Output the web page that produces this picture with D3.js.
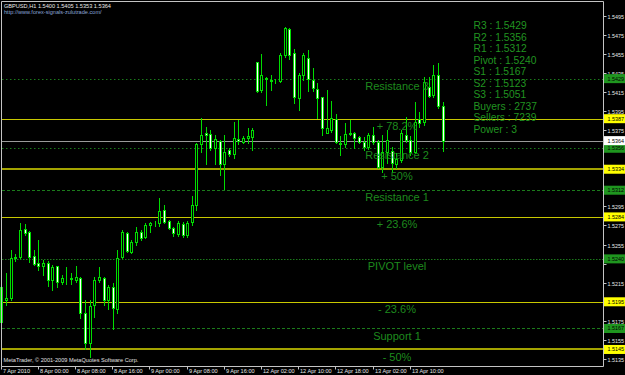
<!DOCTYPE html>
<html>
<head>
<meta charset="utf-8">
<script src="https://cdn.jsdelivr.net/npm/d3@7"></script>
<style>
  body {
    margin: 0;
    background: #000;
  }
  svg { display: block; }
</style>
</head>
<body>
<div id="chartContainer"></div>
<script type="text/javascript">
// GBPUSD H1 bars, 7 Apr 16:00 .. 13 Apr 17:00
var opens = [1.5174,1.5197,1.5199,1.5241,1.5242,1.5271,1.5268,1.5243,1.5236,1.5232,
  1.5236,1.5218,1.5232,1.5216,1.5219,1.5219,1.5218,1.5220,1.5183,1.5152,
  1.5192,1.5218,1.5220,1.5197,1.5210,1.5187,1.5242,1.5267,1.5247,1.5258,
  1.5268,1.5263,1.5276,1.5278,1.5278,1.5291,1.5280,1.5272,1.5266,1.5277,
  1.5265,1.5279,1.5296,1.5360,1.5372,1.5371,1.5356,1.5364,1.5340,1.5354,
  1.5350,1.5366,1.5363,1.5367,1.5368,1.5446,1.5417,1.5430,1.5428,1.5427,
  1.5426,1.5454,1.5481,1.5456,1.5409,1.5433,1.5451,1.5428,1.5418,1.5410,
  1.5372,1.5375,1.5387,1.5360,1.5360,1.5372,1.5372,1.5368,1.5363,1.5357,
  1.5370,1.5363,1.5336,1.5352,1.5353,1.5339,1.5344,1.5370,1.5365,1.5352,
  1.5387,1.5384,1.5420,1.5412,1.5433,1.5400];
var highs = [1.5215,1.5225,1.5249,1.5245,1.5278,1.5277,1.5269,1.5249,1.5260,1.5239,
  1.5238,1.5234,1.5233,1.5223,1.5231,1.5225,1.5233,1.5221,1.5197,1.5197,
  1.5221,1.5231,1.5221,1.5213,1.5215,1.5249,1.5270,1.5268,1.5260,1.5273,
  1.5270,1.5278,1.5279,1.5280,1.5304,1.5297,1.5281,1.5273,1.5280,1.5279,
  1.5280,1.5306,1.5362,1.5388,1.5378,1.5375,1.5370,1.5365,1.5370,1.5356,
  1.5384,1.5386,1.5369,1.5377,1.5377,1.5446,1.5455,1.5431,1.5433,1.5429,
  1.5456,1.5483,1.5482,1.5460,1.5435,1.5456,1.5459,1.5440,1.5424,1.5410,
  1.5417,1.5406,1.5392,1.5369,1.5382,1.5386,1.5373,1.5369,1.5368,1.5372,
  1.5378,1.5365,1.5370,1.5375,1.5357,1.5351,1.5375,1.5389,1.5369,1.5405,
  1.5394,1.5431,1.5431,1.5443,1.5445,1.5405];
var lows = [1.5171,1.5192,1.5197,1.5238,1.5241,1.5265,1.5237,1.5234,1.5228,1.5223,
  1.5212,1.5207,1.5210,1.5214,1.5214,1.5214,1.5216,1.5178,1.5145,1.5137,
  1.5179,1.5216,1.5192,1.5187,1.5166,1.5183,1.5241,1.5247,1.5246,1.5255,
  1.5260,1.5262,1.5268,1.5274,1.5274,1.5278,1.5271,1.5264,1.5264,1.5263,
  1.5263,1.5276,1.5291,1.5352,1.5339,1.5354,1.5339,1.5328,1.5313,1.5348,
  1.5346,1.5360,1.5361,1.5362,1.5354,1.5415,1.5415,1.5401,1.5417,1.5424,
  1.5425,1.5452,1.5450,1.5403,1.5396,1.5428,1.5416,1.5416,1.5388,1.5370,
  1.5372,1.5373,1.5362,1.5349,1.5357,1.5370,1.5356,1.5361,1.5354,1.5355,
  1.5360,1.5335,1.5331,1.5341,1.5331,1.5335,1.5342,1.5363,1.5349,1.5351,
  1.5378,1.5380,1.5410,1.5410,1.5398,1.5353];
var closes = [1.5211,1.5199,1.5241,1.5242,1.5270,1.5267,1.5242,1.5235,1.5232,1.5236,
  1.5218,1.5231,1.5216,1.5220,1.5219,1.5220,1.5221,1.5183,1.5152,1.5191,
  1.5218,1.5221,1.5197,1.5211,1.5188,1.5241,1.5268,1.5248,1.5258,1.5268,
  1.5262,1.5275,1.5278,1.5278,1.5290,1.5279,1.5272,1.5267,1.5278,1.5265,
  1.5278,1.5297,1.5360,1.5370,1.5370,1.5356,1.5366,1.5340,1.5352,1.5350,
  1.5367,1.5364,1.5367,1.5369,1.5375,1.5416,1.5433,1.5429,1.5426,1.5426,
  1.5454,1.5482,1.5454,1.5410,1.5433,1.5454,1.5429,1.5419,1.5409,1.5377,
  1.5377,1.5388,1.5363,1.5362,1.5371,1.5371,1.5367,1.5363,1.5357,1.5370,
  1.5363,1.5336,1.5352,1.5365,1.5341,1.5345,1.5372,1.5365,1.5352,1.5384,
  1.5383,1.5425,1.5411,1.5433,1.5400,1.5364];

// time axis labels (bar index of each)
var timeLabels = ["7 Apr 2010","8 Apr 00:00","8 Apr 08:00","8 Apr 16:00","9 Apr 00:00","9 Apr 08:00",
  "9 Apr 16:00","12 Apr 02:00","12 Apr 10:00","12 Apr 18:00","13 Apr 02:00","13 Apr 10:00"];
var timeLabelBars = [0,8,16,24,32,40,48,56,64,72,80,88];

// price axis ticks
var priceTicks = [1.5495,1.5475,1.5455,1.5435,1.5415,1.5395,1.5375,1.5355,1.5335,1.5315,
  1.5295,1.5275,1.5255,1.5235,1.5215,1.5195,1.5175,1.5155,1.5135];

// pivot levels
var levelNames = ["Resistance 3","Resistance 2","Resistance 1","PIVOT level","Support 1"];
var levelValues = [1.5429,1.5356,1.5312,1.5240,1.5167];
var levelDash = ["1.5,2.5","1.5,2.5","3,2","1.5,1.5","3,2"];

// fibo levels
var fiboNames = ["+ 78.2%","+ 50%","+ 23.6%","- 23.6%","- 50%"];
var fiboValues = [1.5387,1.5334,1.5284,1.5195,1.5145];
var fiboWidth = [1,2,1,1,2];

var lastPrice = 1.5364;

// indicator info box
var infoLines = ["R3 : 1.5429","R2 : 1.5356","R1 : 1.5312","Pivot : 1.5240","S1 : 1.5167",
  "S2 : 1.5123","S3 : 1.5051","Buyers : 2737","Sellers : 7239","Power : 3"];

var W = 625, H = 375;
var plotRight = 603.5, plotBottom = 366.5;

var svg = d3.select("#chartContainer").append("svg")
  .attr("width", W).attr("height", H)
  .style("background", "#000");

//Scales
var x = d3.scaleLinear().domain([0, opens.length - 1]).range([2.3, 443.7]);
var y = d3.scaleLinear().domain([1.5495, 1.5135]).range([15.7, 359]);
function py(v) { return Math.round(y(v)) + 0.5; }

var fontSmall = "Liberation Sans, Arial, sans-serif";

//Pivot lines
levelValues.forEach(function (v, i) {
  svg.append("line")
    .attr("x1", 2).attr("x2", plotRight)
    .attr("y1", py(v)).attr("y2", py(v))
    .attr("stroke", "#1b7a1b")
    .attr("stroke-dasharray", levelDash[i]);
});

//Fibo lines
fiboValues.forEach(function (v, i) {
  svg.append("line")
    .attr("x1", 2).attr("x2", plotRight)
    .attr("y1", fiboWidth[i] == 2 ? py(v) - 0.5 : py(v))
    .attr("y2", fiboWidth[i] == 2 ? py(v) - 0.5 : py(v))
    .attr("stroke", fiboWidth[i] == 2 ? "#a3a300" : "#c8c800")
    .attr("stroke-width", fiboWidth[i]);
});

//Bid line
svg.append("line")
  .attr("x1", 2).attr("x2", plotRight)
  .attr("y1", py(lastPrice)).attr("y2", py(lastPrice))
  .attr("stroke", "#9a9a9a");

//Candles
var bars = d3.range(opens.length);
var g = svg.append("g");
bars.forEach(function (i) {
  var xi = Math.round(x(i));
  var up = closes[i] >= opens[i];
  g.append("line")
    .attr("x1", xi - 0.5).attr("x2", xi - 0.5)
    .attr("y1", Math.round(y(highs[i]))).attr("y2", Math.round(y(lows[i])) + 1)
    .attr("stroke", "#00dc00");
  var top = Math.round(y(Math.max(opens[i], closes[i])));
  var bot = Math.round(y(Math.min(opens[i], closes[i])));
  g.append("rect")
    .attr("x", xi - 1.5).attr("width", 2)
    .attr("y", top + 0.5).attr("height", Math.max(bot - top, 0))
    .attr("fill", up ? "#000" : "#ffffff")
    .attr("stroke", "#00dc00");
});

//Level texts
var textColor = "#1e8a1e";
levelValues.forEach(function (v, i) {
  svg.append("text")
    .attr("x", 397).attr("y", y(v) + 11.2)
    .attr("text-anchor", "middle")
    .style("font-family", "Liberation Sans, Arial, sans-serif")
    .style("font-size", "11px")
    .attr("fill", textColor)
    .text(levelNames[i]);
});
fiboValues.forEach(function (v, i) {
  svg.append("text")
    .attr("x", 397).attr("y", y(v) + 11.2)
    .attr("text-anchor", "middle")
    .style("font-family", "Liberation Sans, Arial, sans-serif")
    .style("font-size", "11px")
    .attr("fill", textColor)
    .text(fiboNames[i]);
});

//Info box
svg.selectAll(".info").data(infoLines).enter().append("text")
  .attr("x", 473.5)
  .attr("y", function (d, i) { return 29 + i * 11.55; })
  .style("font-family", "Liberation Sans, Arial, sans-serif")
  .style("font-size", "10.3px")
  .attr("fill", "#209420")
  .text(function (d) { return d; });

//Frame
svg.append("path")
  .attr("d", "M1.5," + plotBottom + "V1.5H" + plotRight + "V" + plotBottom + "H1.5")
  .attr("fill", "none")
  .attr("stroke", "#c4c4c4");

//Y-Axis (labels sitting under a price box are hidden, like the terminal does)
var boxValues = levelValues.concat(fiboValues, [lastPrice]);
priceTicks.forEach(function (v) {
  var ty = py(v);
  svg.append("line")
    .attr("x1", plotRight).attr("x2", plotRight + 3)
    .attr("y1", ty).attr("y2", ty)
    .attr("stroke", "#c4c4c4");
  var covered = boxValues.some(function (b) { return Math.abs(y(b) - y(v)) < 5.5; });
  if (covered) return;
  svg.append("text")
    .attr("x", 607.5).attr("y", ty + 2)
    .style("font-family", fontSmall)
    .style("font-size", "5.4px")
    .attr("fill", "#e8e8e8")
    .text(d3.format(".4f")(v));
});

//Price boxes on the axis
function priceBox(v, col) {
  var by = y(v);
  svg.append("rect")
    .attr("x", 604).attr("y", by - 4.5)
    .attr("width", 21).attr("height", 9)
    .attr("fill", col);
  svg.append("text")
    .attr("x", 607.5).attr("y", by + 2)
    .style("font-family", fontSmall)
    .style("font-size", "5.4px")
    .attr("fill", "#000")
    .text(d3.format(".4f")(v));
}
levelValues.forEach(function (v) { priceBox(v, "#1f961f"); });
fiboValues.forEach(function (v) { priceBox(v, "#ffff00"); });
priceBox(lastPrice, "#ffffff");

//X-Axis
timeLabelBars.forEach(function (b, i) {
  var tx = Math.round(x(b) - 1.5) + 0.5;
  svg.append("line")
    .attr("x1", tx).attr("x2", tx)
    .attr("y1", plotBottom).attr("y2", plotBottom + 3)
    .attr("stroke", "#c4c4c4");
  svg.append("text")
    .attr("x", tx + 1.5).attr("y", 372.5)
    .style("font-family", fontSmall)
    .style("font-size", "5.6px")
    .attr("fill", "#e8e8e8")
    .text(timeLabels[i]);
});

//Header and watermark
svg.append("text")
  .attr("x", 4).attr("y", 7.5)
  .style("font-family", fontSmall).style("font-size", "5.6px")
  .attr("fill", "#e8e8e8")
  .text("GBPUSD,H1  1.5400 1.5405 1.5353 1.5364");
svg.append("text")
  .attr("x", 4).attr("y", 14)
  .style("font-family", fontSmall).style("font-size", "5.6px")
  .attr("fill", "#8aa6d8")
  .text("http://www.forex-signals-zulutrade.com/");
svg.append("text")
  .attr("x", 3.5).attr("y", 362)
  .style("font-family", fontSmall).style("font-size", "5.6px")
  .attr("fill", "#e0e0e0")
  .text("MetaTrader, \u00a9 2001-2009 MetaQuotes Software Corp.");
</script>
</body>
</html>
